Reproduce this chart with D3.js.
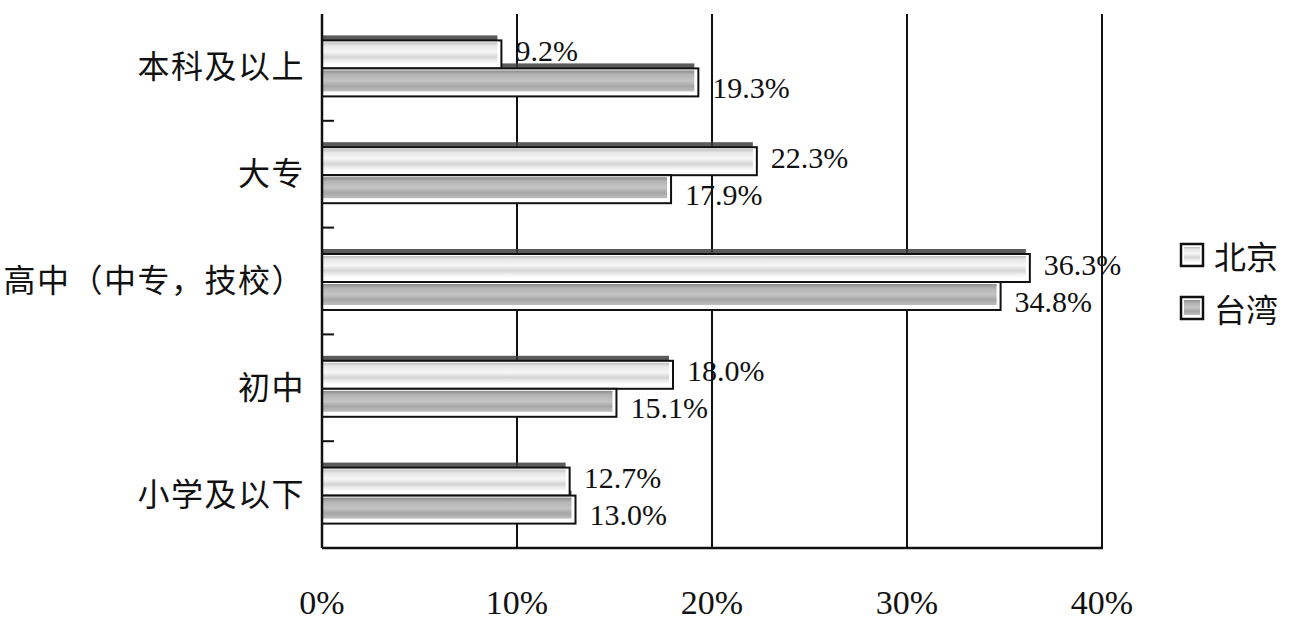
<!DOCTYPE html>
<html>
<head>
<meta charset="utf-8">
<script src="https://cdn.jsdelivr.net/npm/d3@7/dist/d3.min.js"></script>
<style>
  html, body { margin: 0; padding: 0; background: #fff; }
  svg { display: block; }
</style>
</head>
<body>
<svg id="chart" width="1299" height="625"></svg>
<script>
// ---- data ----
const categories = ["本科及以上", "大专", "高中（中专，技校）", "初中", "小学及以下"];
const seriesNames = ["北京", "台湾"];
const beijing = [9.2, 22.3, 36.3, 18.0, 12.7];
const taiwan  = [19.3, 17.9, 34.8, 15.1, 13.0];
const xTicks = [0, 10, 20, 30, 40];
const xTickLabels = ["0%", "10%", "20%", "30%", "40%"];

(function () {
const seriesValues = { "北京": beijing, "台湾": taiwan };

const svg = d3.select("#chart");
const pL = 322, pR = 1102, pT = 14, pB = 548;

const x = d3.scaleLinear().domain([0, 40]).range([pL, pR]);
const y = d3.scaleBand().domain(categories).range([pT, pB]);
const barH = 28;
const sub = d3.scaleBand().domain(seriesNames).range([0, barH * 2]);
const labelShift = { "北京": -4, "台湾": 5 };

// gradients
const defs = svg.append("defs");
function grad(id, stops) {
  const g = defs.append("linearGradient").attr("id", id)
    .attr("x1", 0).attr("y1", 0).attr("x2", 0).attr("y2", 1);
  stops.forEach(s => g.append("stop").attr("offset", s[0]).attr("stop-color", s[1]));
}
grad("gBJ", [[0, "#bdbdbd"], [0.15, "#e6e6e6"], [0.45, "#f7f7f7"], [0.7, "#d4d4d4"], [0.85, "#ececec"], [1, "#fafafa"]]);
grad("gTW", [[0, "#8c8c8c"], [0.2, "#b4b4b4"], [0.5, "#c4c4c4"], [0.75, "#a6a6a6"], [1, "#bfbfbf"]]);
const fills = { "北京": "url(#gBJ)", "台湾": "url(#gTW)" };

// grid lines
const gridG = svg.append("g");
xTicks.slice(1).forEach(t => {
  gridG.append("line")
    .attr("x1", x(t)).attr("x2", x(t))
    .attr("y1", pT).attr("y2", pB)
    .attr("stroke", "#111").attr("stroke-width", 2);
});

// bars
const rows = [];
categories.forEach((c, i) => {
  seriesNames.forEach(s => rows.push({ cat: c, series: s, value: seriesValues[s][i] }));
});
const off = (y.bandwidth() - barH * 2) / 2 + 1;

const barG = svg.append("g");
rows.forEach(d => {
  const y0 = y(d.cat) + off + sub(d.series);
  const x0 = x(0), x1 = x(d.value);
  barG.append("rect")
    .attr("x", x0).attr("y", y0 - 5)
    .attr("width", Math.max(0, x1 - x0 - 4)).attr("height", 6)
    .attr("fill", "#3e3e3e").attr("opacity", 0.85);
});
rows.forEach(d => {
  const y0 = y(d.cat) + off + sub(d.series);
  const x0 = x(0), x1 = x(d.value);
  barG.append("rect")
    .attr("x", x0).attr("y", y0)
    .attr("width", x1 - x0).attr("height", barH)
    .attr("fill", "#fff").attr("stroke", "#111").attr("stroke-width", 2);
  barG.append("rect")
    .attr("x", x0 + 1).attr("y", y0 + 2)
    .attr("width", Math.max(0, x1 - x0 - 5)).attr("height", barH - 7)
    .attr("fill", fills[d.series]);
});

// axis frame
svg.append("line").attr("x1", pL).attr("x2", pL).attr("y1", pT).attr("y2", pB)
  .attr("stroke", "#111").attr("stroke-width", 2.5);
svg.append("line").attr("x1", pL).attr("x2", pR + 1).attr("y1", pB).attr("y2", pB)
  .attr("stroke", "#111").attr("stroke-width", 2.5);

// y band boundary ticks (inward)
categories.slice(1).forEach(c => {
  svg.append("line").attr("x1", pL).attr("x2", pL + 12)
    .attr("y1", y(c)).attr("y2", y(c))
    .attr("stroke", "#111").attr("stroke-width", 2);
});

// category labels
svg.append("g").selectAll("text").data(categories).join("text")
  .attr("x", 305)
  .attr("y", c => y(c) + y.bandwidth() / 2 - 3)
  .attr("text-anchor", "end")
  .attr("dominant-baseline", "central")
  .attr("font-family", "'Noto Sans CJK SC', sans-serif")
  .attr("font-size", 32)
  .attr("letter-spacing", 1.5)
  .attr("fill", "#111")
  .text(c => c);

// x tick labels
svg.append("g").selectAll("text").data(xTicks).join("text")
  .attr("x", t => x(t))
  .attr("y", 614)
  .attr("text-anchor", "middle")
  .attr("font-family", "'Liberation Serif', 'Times New Roman', serif")
  .attr("font-size", 34)
  .attr("fill", "#111")
  .text((t, i) => xTickLabels[i]);

// data labels
svg.append("g").selectAll("text").data(rows).join("text")
  .attr("x", d => x(d.value) + 14)
  .attr("y", d => y(d.cat) + off + sub(d.series) + barH / 2 + labelShift[d.series])
  .attr("dominant-baseline", "central")
  .attr("font-family", "'Liberation Serif', 'Times New Roman', serif")
  .attr("font-size", 30)
  .attr("fill", "#111")
  .text(d => d.value.toFixed(1) + "%");

// legend
const legend = svg.append("g");
seriesNames.forEach((s, i) => {
  const ly = 255 + i * 53;
  legend.append("rect").attr("x", 1181).attr("y", ly - 11).attr("width", 22).attr("height", 22)
    .attr("fill", "#fff").attr("stroke", "#111").attr("stroke-width", 2.5);
  legend.append("rect").attr("x", 1184).attr("y", ly - 8).attr("width", 16).attr("height", 15)
    .attr("fill", fills[s]);
  legend.append("text").attr("x", 1214).attr("y", ly)
    .attr("dominant-baseline", "central")
    .attr("font-family", "'Noto Sans CJK SC', sans-serif")
    .attr("font-size", 32).attr("fill", "#111")
    .text(s);
});
})();
</script>
</body>
</html>
